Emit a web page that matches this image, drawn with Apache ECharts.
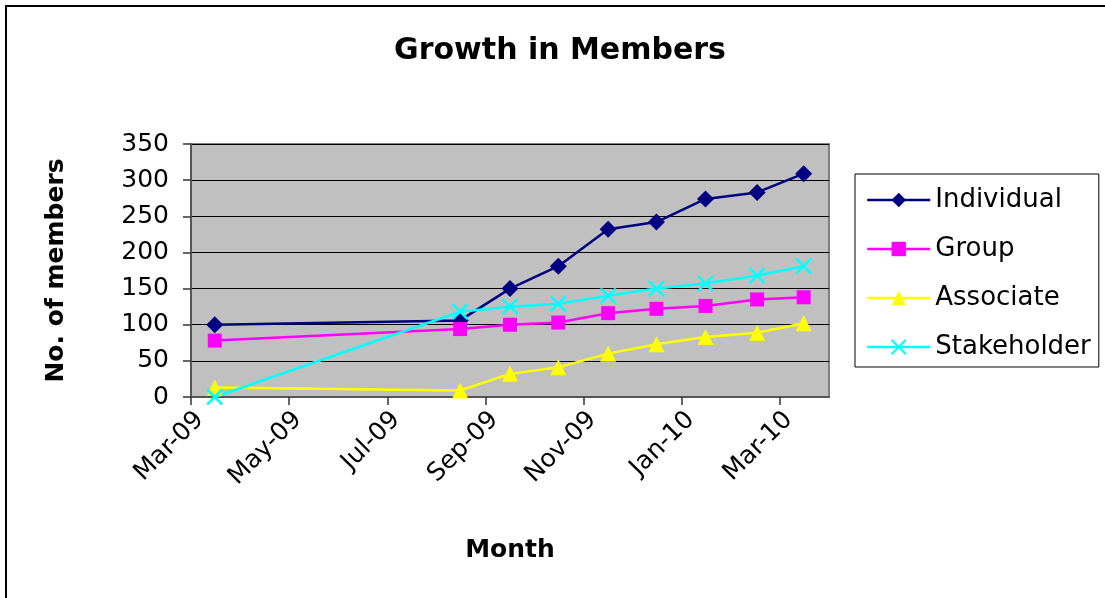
<!DOCTYPE html>
<html>
<head>
<meta charset="utf-8">
<script src="https://cdn.jsdelivr.net/npm/echarts@6/dist/echarts.min.js"></script>
<style>
html,body{margin:0;padding:0;background:#fff;}
#chart{width:1105px;height:598px;}
</style>
</head>
<body>
<div id="chart"></div>
<script>
// ---- data ----
const dates = ['2009-03-16','2009-08-16','2009-09-16','2009-10-16','2009-11-16','2009-12-16','2010-01-16','2010-02-16','2010-03-16'];
const individual  = [100, 106, 150, 181, 232, 242, 274, 283, 309];
const group       = [78, 94, 100, 103, 116, 122, 126, 135, 138];
const associate   = [13, 9, 32, 41, 60, 73, 83, 89, 102];
const stakeholder = [0, 118, 125, 129, 140, 150, 157, 168, 181];
const xTickLabels = ['Mar-09','May-09','Jul-09','Sep-09','Nov-09','Jan-10','Mar-10'];
const yTicks = [0, 50, 100, 150, 200, 250, 300, 350];

// month index since March 2009 (fractional by day)
function monthIndex(s) {
  const [y, m, d] = s.split('-').map(Number);
  const days = new Date(y, m, 0).getDate();
  return (y - 2009) * 12 + (m - 3) + (d - 1) / days;
}
const xs = dates.map(monthIndex);
const pairs = arr => arr.map((v, i) => [xs[i], v]);
const tickVals = xTickLabels.map((_, i) => i * 2);

const FONT = 'DejaVu Sans';
const chart = echarts.init(document.getElementById('chart'));
const crossPath = 'path://M0,0L10,10M10,0L0,10';

chart.setOption({
  animation: false,
  backgroundColor: '#fff',
  title: {
    text: 'Growth in Members',
    left: 560, top: 36, padding: 0, textAlign: 'center',
    textStyle: { fontFamily: FONT, fontSize: 30, fontWeight: 'bold', color: '#000' }
  },
  graphic: [{
    type: 'rect', x: 0, y: 0, silent: true,
    shape: { x: 6, y: 6, width: 1120, height: 620 },
    style: { fill: 'none', stroke: '#000', lineWidth: 2 }
  }],
  legend: {
    orient: 'vertical', left: 855, top: 174,
    padding: [13, 8, 7, 11],
    itemWidth: 63, itemHeight: 18, itemGap: 23,
    borderColor: '#000', borderWidth: 1, backgroundColor: '#fff',
    lineStyle: { width: 2.5 },
    textStyle: { fontFamily: FONT, fontSize: 26, color: '#000' },
    data: ['Individual', 'Group', 'Associate', 'Stakeholder']
  },
  grid: {
    left: 191, right: 276, top: 144, bottom: 201,
    show: true, backgroundColor: '#C0C0C0', borderColor: '#808080', borderWidth: 2,
    containLabel: false
  },
  xAxis: {
    type: 'value', min: 0, max: 13, interval: 2,
    name: 'Month', nameLocation: 'middle', nameGap: 141,
    nameTextStyle: { fontFamily: FONT, fontSize: 25, fontWeight: 'bold', color: '#000' },
    axisLine: { show: true, lineStyle: { color: '#555', width: 2 } },
    axisTick: { show: true, length: 8, lineStyle: { color: '#333', width: 1.5 }, customValues: tickVals },
    axisLabel: {
      customValues: tickVals,
      rotate: 45, margin: 10, align: 'right', verticalAlign: 'top',
      fontFamily: FONT, fontSize: 25, color: '#000',
      formatter: v => xTickLabels[Math.round(v / 2)] || ''
    },
    splitLine: { show: false }
  },
  yAxis: {
    type: 'value', min: yTicks[0], max: yTicks[yTicks.length - 1], interval: 50,
    name: 'No. of members', nameLocation: 'middle', nameGap: 122,
    nameTextStyle: { fontFamily: FONT, fontSize: 25, fontWeight: 'bold', color: '#000' },
    axisLine: { show: true, lineStyle: { color: '#555', width: 2 } },
    axisTick: { show: true, length: 8, lineStyle: { color: '#333', width: 1.5 } },
    axisLabel: { margin: 22, fontFamily: FONT, fontSize: 25, color: '#000' },
    splitLine: { show: true, lineStyle: { color: '#000', width: 1 } }
  },
  series: [
    { name: 'Individual', type: 'line', data: pairs(individual),
      symbol: 'diamond', symbolSize: 17,
      lineStyle: { color: '#000080', width: 2.5 }, itemStyle: { color: '#000080' } },
    { name: 'Group', type: 'line', data: pairs(group),
      symbol: 'rect', symbolSize: 14,
      lineStyle: { color: '#FF00FF', width: 2.5 }, itemStyle: { color: '#FF00FF' } },
    { name: 'Associate', type: 'line', data: pairs(associate),
      symbol: 'triangle', symbolSize: 16,
      lineStyle: { color: '#FFFF00', width: 2.5 }, itemStyle: { color: '#FFFF00' } },
    { name: 'Stakeholder', type: 'line', data: pairs(stakeholder),
      symbol: crossPath, symbolSize: 15,
      lineStyle: { color: '#00FFFF', width: 2.5 },
      itemStyle: { color: '#00FFFF', borderColor: '#00FFFF', borderWidth: 2.5 } }
  ]
});
</script>
</body>
</html>
